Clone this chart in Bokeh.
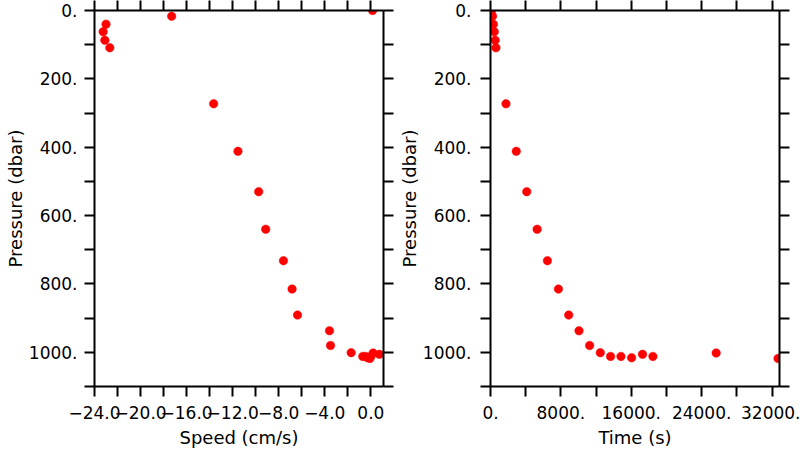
from bokeh.plotting import figure
from bokeh.models import Range1d, LinearAxis, FixedTicker, CustomJSTickFormatter
from bokeh.layouts import row
from bokeh.embed import file_html
from bokeh.resources import INLINE

# ---- data ----
pressure = [0, 16.6, 40, 62, 87, 109, 273, 412, 530, 640, 732, 815, 891,
            937, 980, 1001, 1012, 1012, 1016, 1006, 1012, 1002, 1018]
speed = [0.15, -17.3, -23.0, -23.25, -23.1, -22.67, -13.65, -11.54, -9.74,
         -9.13, -7.59, -6.84, -6.37, -3.59, -3.5, -1.71, -0.7, 0.0, -0.3,
         0.74, -0.45, 0.2, -0.08]
time_s = [130, 230, 330, 430, 530, 620, 1760, 2930, 4120, 5300, 6470, 7720,
          8890, 10060, 11270, 12480, 13650, 14830, 16040, 17280, 18460,
          25650, 32680]

speed_ticks = [-24, -20, -16, -12, -8, -4, 0]
speed_minor = [-22, -18, -14, -10, -6, -2]
time_ticks = [0, 8000, 16000, 24000, 32000]
time_minor = [4000, 12000, 20000, 28000]
pres_ticks = [0, 200, 400, 600, 800, 1000]
pres_minor = [100, 300, 500, 700, 900, 1100]

speed_label = "Speed (cm/s)"
time_label = "Time (s)"
pres_label = "Pressure (dbar)"

FONT = "DejaVu Sans"

speed_fmt = CustomJSTickFormatter(code="""
return tick < 0 ? "\\u2212" + (-tick).toFixed(1) : tick.toFixed(1);
""")
int_fmt = CustomJSTickFormatter(code="""return tick.toFixed(0) + ".";""")
blank_fmt = CustomJSTickFormatter(code="""return "";""")


def style_axis(ax, show_labels):
    ax.axis_line_width = 2
    ax.axis_line_color = "black"
    ax.major_tick_line_width = 2
    ax.minor_tick_line_width = 2
    ax.major_tick_line_color = "black"
    ax.minor_tick_line_color = "black"
    ax.major_tick_out = 10
    ax.major_tick_in = 0
    ax.minor_tick_out = 10
    ax.minor_tick_in = 0
    ax.major_label_text_font = FONT
    ax.major_label_text_color = "black"
    ax.axis_label_text_font = FONT
    ax.axis_label_text_font_style = "normal"
    ax.axis_label_text_color = "black"
    ax.axis_label_text_font_size = "18px"
    if show_labels:
        ax.major_label_text_font_size = "17px"
    else:
        ax.major_label_text_font_size = "0px"
        ax.major_label_standoff = 0
        ax.formatter = blank_fmt


def make_panel(xvals, xr, xticks, xminor, xfmt, xlabel, width, mbl, mbr,
               ylab_standoff):
    p = figure(width=width, height=450, x_range=xr,
               y_range=Range1d(1100, 0), output_backend="svg",
               toolbar_location=None, min_border_left=mbl,
               min_border_right=mbr, min_border_top=10,
               min_border_bottom=63)
    p.outline_line_color = None
    p.xgrid.visible = False
    p.ygrid.visible = False
    p.background_fill_color = "white"
    p.border_fill_color = "white"

    xb = p.xaxis[0]
    xb.ticker = FixedTicker(ticks=xticks, minor_ticks=xminor)
    xb.formatter = xfmt
    xb.axis_label = xlabel
    style_axis(xb, True)
    xb.major_label_standoff = 9
    xb.axis_label_standoff = 5

    yl = p.yaxis[0]
    yl.ticker = FixedTicker(ticks=pres_ticks, minor_ticks=pres_minor)
    yl.formatter = int_fmt
    yl.axis_label = pres_label
    style_axis(yl, True)
    yl.major_label_standoff = ylab_standoff
    yl.axis_label_standoff = 0

    top_ticks = sorted(xticks + xminor)
    xt = LinearAxis(ticker=FixedTicker(ticks=top_ticks, minor_ticks=[]))
    style_axis(xt, False)
    p.add_layout(xt, "above")

    yr = LinearAxis(ticker=FixedTicker(ticks=sorted(pres_ticks + pres_minor),
                                       minor_ticks=[]))
    style_axis(yr, False)
    p.add_layout(yr, "right")

    p.scatter(xvals, pressure, size=8.5, fill_color="#ff0000",
              line_color="#ff0000", line_width=0.5)
    return p


p1 = make_panel(speed, Range1d(-24, 1.1), speed_ticks, speed_minor,
                speed_fmt, speed_label, 394, 94, 11, 7)
p2 = make_panel(time_s, Range1d(0, 32850), time_ticks, time_minor,
                int_fmt, time_label, 406, 96, 21, 9)

layout = row(p1, p2)

open("out.html", "w").write(file_html(layout, INLINE))
